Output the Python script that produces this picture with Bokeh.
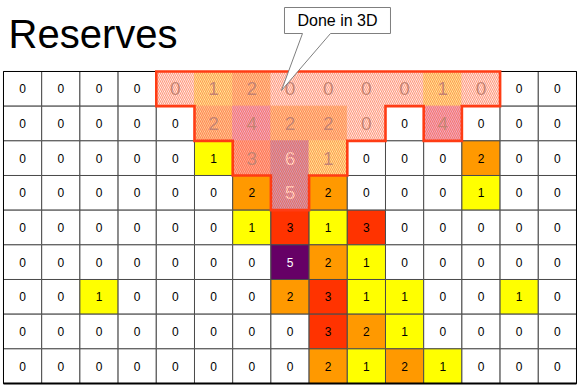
from bokeh.plotting import figure
from bokeh.models import Range1d, Label
from bokeh.embed import file_html
from bokeh.resources import INLINE
from bokeh.core.properties import value

# ---- data -------------------------------------------------------------
title_text = "Reserves"
callout_text = "Done in 3D"

values = [
    [0, 0, 0, 0, 0, 1, 2, 0, 0, 0, 0, 1, 0, 0, 0],
    [0, 0, 0, 0, 0, 2, 4, 2, 2, 0, 0, 4, 0, 0, 0],
    [0, 0, 0, 0, 0, 1, 3, 6, 1, 0, 0, 0, 2, 0, 0],
    [0, 0, 0, 0, 0, 0, 2, 5, 2, 0, 0, 0, 1, 0, 0],
    [0, 0, 0, 0, 0, 0, 1, 3, 1, 3, 0, 0, 0, 0, 0],
    [0, 0, 0, 0, 0, 0, 0, 5, 2, 1, 0, 0, 0, 0, 0],
    [0, 0, 1, 0, 0, 0, 0, 2, 3, 1, 1, 0, 0, 1, 0],
    [0, 0, 0, 0, 0, 0, 0, 0, 3, 2, 1, 0, 0, 0, 0],
    [0, 0, 0, 0, 0, 0, 0, 0, 2, 1, 2, 1, 0, 0, 0],
]

# hatched "done in 3D" spans: (row, first col, last col)
done_3d = [(0, 4, 12), (1, 5, 9), (1, 11, 11), (2, 6, 8), (3, 7, 7)]

level_colors = ["#FFFFFF", "#FFFF00", "#FF9900", "#FF3300",
                "#CC3399", "#660066", "#660066"]

nrows = len(values)
ncols = len(values[0])

mask = set()
for r, c0, c1 in done_3d:
    for c in range(c0, c1 + 1):
        mask.add((r, c))

# ---- figure -----------------------------------------------------------
W, H = 580, 391
p = figure(width=W, height=H,
           x_range=Range1d(-0.0785, ncols + 0.105),
           y_range=Range1d(nrows + 0.2308, -2.048),
           x_axis_type=None, y_axis_type=None,
           output_backend="svg", toolbar_location=None, min_border=0)
p.grid.visible = False
p.outline_line_color = None
p.background_fill_color = "white"
p.border_fill_color = "white"

FONT = value("Liberation Sans")

plain = dict(x=[], y=[], fill=[], txt=[], tcol=[])
hatch = dict(x=[], y=[], fill=[], txt=[], tcol=[])
for r in range(nrows):
    for c in range(ncols):
        v = values[r][c]
        d = hatch if (r, c) in mask else plain
        d["x"].append(c + 0.5)
        d["y"].append(r + 0.5)
        d["fill"].append(level_colors[v])
        d["txt"].append(str(v))
        d["tcol"].append("white" if v >= 5 else "black")

p.rect(x="x", y="y", width=1, height=1, source=plain,
       fill_color="fill", line_color="#4a4a4a", line_width=1)
p.rect(x="x", y="y", width=1, height=1, source=hatch,
       fill_color="fill", line_color="fill", line_width=1)

p.text(x="x", y="y", text="txt", source=plain, text_color="tcol",
       text_font=FONT, text_font_size="12px",
       text_align="center", text_baseline="middle")
p.text(x="x", y="y", text="txt", source=hatch, text_color="tcol",
       text_font=FONT, text_font_size="19px",
       text_align="center", text_baseline="middle")

# outer frame
p.rect(x=ncols / 2, y=nrows / 2, width=ncols, height=nrows,
       fill_color=None, line_color="black", line_width=1)
p.segment(x0=0, y0=nrows, x1=ncols, y1=nrows, line_color="black", line_width=2)

# outline of the hatched region traced from the mask
edges = set()
for (r, c) in mask:
    pts = [(c, r), (c + 1, r), (c + 1, r + 1), (c, r + 1)]
    for i in range(4):
        a, b = pts[i], pts[(i + 1) % 4]
        if (b, a) in edges:
            edges.remove((b, a))
        else:
            edges.add((a, b))
nxt = {a: b for a, b in edges}
start = min(nxt)
poly = [start]
cur = nxt[start]
while cur != start:
    poly.append(cur)
    cur = nxt[cur]

p.patch(x=[pt[0] for pt in poly], y=[pt[1] for pt in poly],
        fill_color="white", fill_alpha=0.66,
        hatch_pattern="left_diagonal_line", hatch_color="#FF3300",
        hatch_alpha=0.5, hatch_scale=4, hatch_weight=1.2,
        line_color="#FF3C14", line_width=2.6, line_join="miter")

# callout
bx0, bx1, by0, by1 = 7.356, 10.131, -1.846, -1.096
tipx, tipy = 7.277, 0.548
cx = [bx0, bx1, bx1, 8.56, tipx, 7.827, bx0]
cy = [by0, by0, by1, by1, tipy, by1, by1]
p.patch(x=cx, y=cy, fill_color="white", line_color="#7f7f7f", line_width=1)
p.text(x=[(bx0 + bx1) / 2], y=[(by0 + by1) / 2], text=[callout_text],
       text_font=FONT, text_font_size="16px", text_color="black",
       text_align="center", text_baseline="middle")

# title
p.add_layout(Label(x=8, y=H - 33, x_units="screen", y_units="screen",
                   text=title_text, text_font="Liberation Sans",
                   text_font_size="40px", text_color="black",
                   text_baseline="alphabetic"))

open("out.html", "w").write(file_html(p, INLINE))
